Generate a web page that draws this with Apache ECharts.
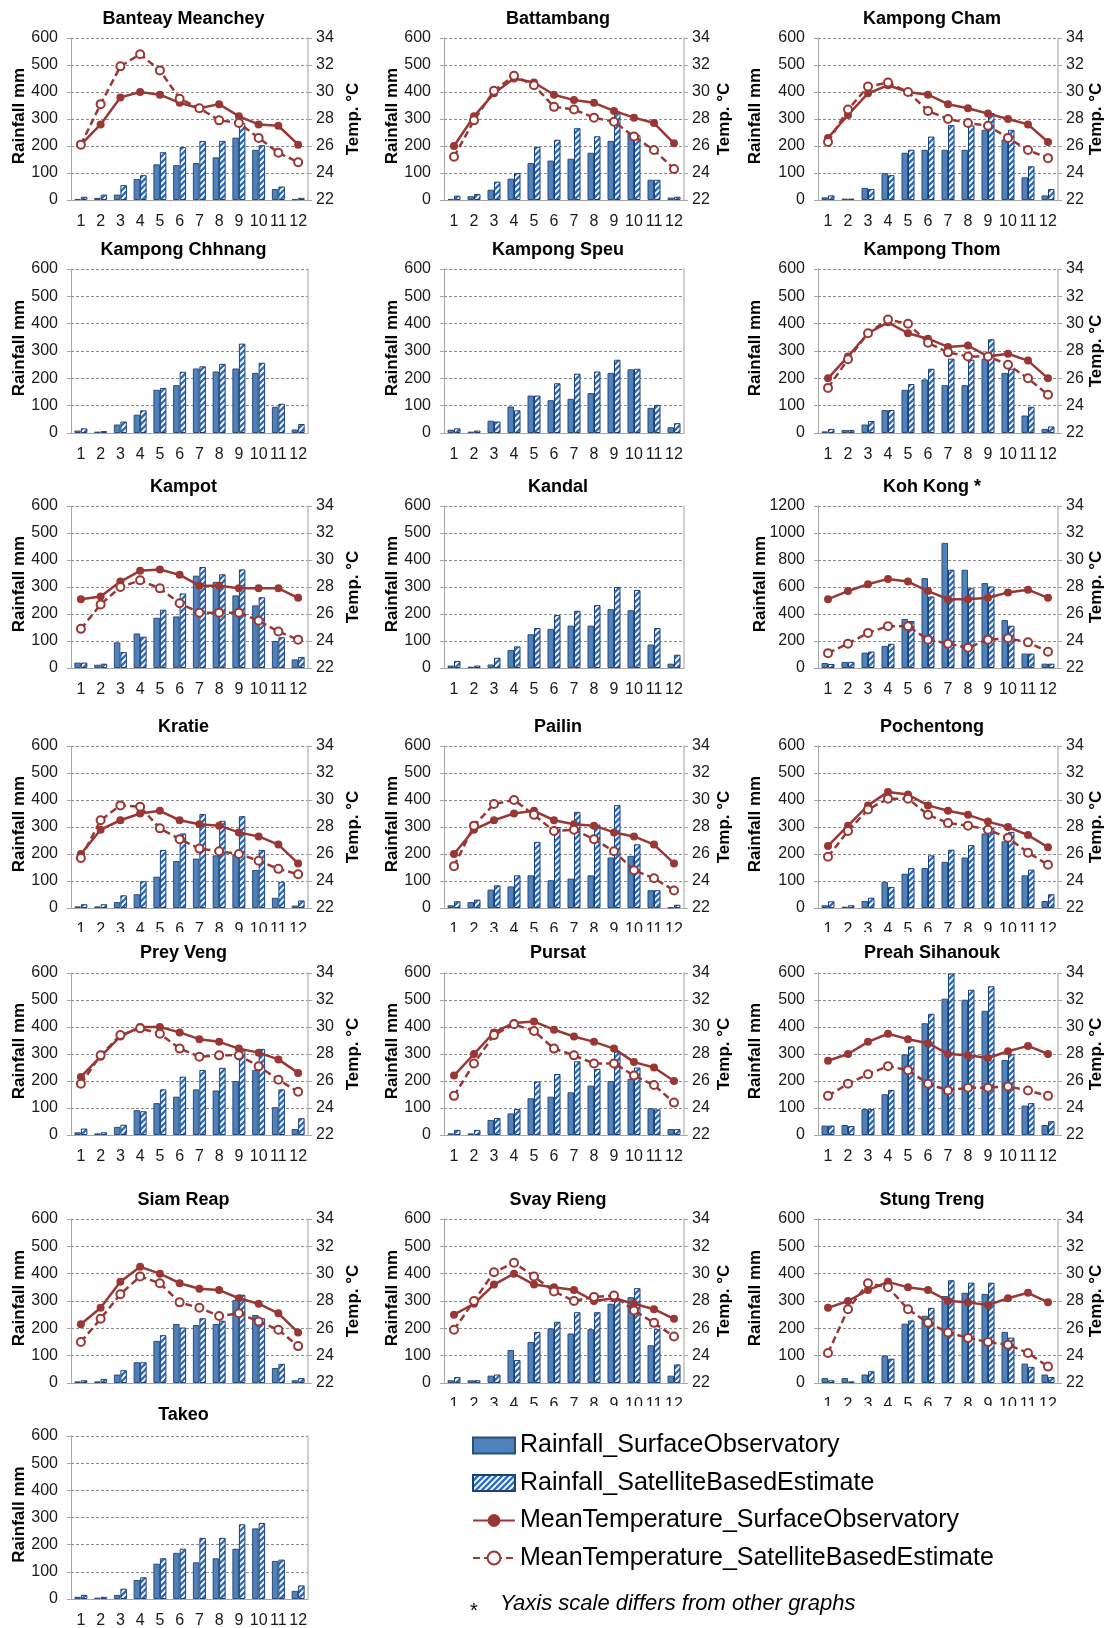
<!DOCTYPE html>
<html>
<head>
<meta charset="utf-8">
<title>Cambodia monthly rainfall and temperature</title>
<script src="https://cdn.jsdelivr.net/npm/echarts@6/dist/echarts.min.js"></script>
<style>
  html, body { margin: 0; padding: 0; background: #fff; }
  #page { position: relative; width: 1110px; height: 1628px; overflow: hidden; background: #fff; }
  .panel { position: absolute; overflow: hidden; background: #fff; }
</style>
</head>
<body>
<div id="page"></div>
<script>
  const months = ['1', '2', '3', '4', '5', '6', '7', '8', '9', '10', '11', '12']

  // Banteay Meanchey
  const bmRainSurf = [4, 8, 20, 78, 132, 129, 137, 158, 231, 186, 41, 3]
  const bmRainSat = [12, 20, 55, 92, 177, 196, 219, 219, 285, 203, 50, 8]
  const bmTempSurf = [26.1, 27.6, 29.6, 30.0, 29.8, 29.2, 28.8, 29.1, 28.2, 27.6, 27.5, 26.1]
  const bmTempSat = [26.1, 29.1, 31.9, 32.8, 31.6, 29.5, 28.8, 27.9, 27.7, 26.6, 25.5, 24.8]
  // Battambang
  const btRainSurf = [4, 14, 38, 79, 137, 146, 153, 175, 219, 248, 75, 9]
  const btRainSat = [16, 22, 68, 100, 197, 223, 266, 236, 328, 240, 75, 12]
  const btTempSurf = [26.0, 28.2, 29.9, 31.0, 30.7, 29.8, 29.4, 29.2, 28.6, 28.1, 27.7, 26.2]
  const btTempSat = [25.2, 27.9, 30.1, 31.2, 30.5, 28.9, 28.7, 28.1, 27.8, 26.7, 25.7, 24.3]
  // Kampong Cham
  const kcRainSurf = [10, 5, 45, 100, 175, 186, 186, 186, 260, 224, 84, 17]
  const kcRainSat = [17, 5, 41, 92, 186, 235, 278, 276, 322, 260, 125, 41]
  const kcTempSurf = [26.6, 28.3, 29.9, 30.5, 30.0, 29.8, 29.1, 28.8, 28.4, 28.0, 27.6, 26.3]
  const kcTempSat = [26.3, 28.7, 30.4, 30.7, 30.0, 28.6, 28.0, 27.7, 27.5, 26.6, 25.7, 25.1]
  // Kampong Chhnang
  const kchRainSurf = [9, 5, 31, 67, 158, 175, 236, 225, 236, 220, 96, 13]
  const kchRainSat = [17, 7, 42, 83, 165, 224, 244, 253, 327, 257, 107, 33]
  // Kampong Speu
  const ksRainSurf = [12, 5, 45, 97, 137, 120, 125, 146, 220, 233, 92, 21]
  const ksRainSat = [17, 9, 42, 83, 137, 182, 217, 225, 268, 235, 103, 36]
  // Kampong Thom
  const ktRainSurf = [6, 11, 31, 84, 158, 196, 175, 175, 272, 220, 64, 15]
  const ktRainSat = [15, 11, 44, 84, 179, 235, 272, 268, 343, 235, 96, 24]
  const ktTempSurf = [26.0, 27.6, 29.3, 30.1, 29.3, 28.9, 28.3, 28.4, 27.6, 27.8, 27.3, 26.0]
  const ktTempSat = [25.3, 27.4, 29.3, 30.3, 30.0, 28.6, 27.9, 27.6, 27.6, 27.0, 26.0, 24.8]
  // Kampot
  const kpRainSurf = [20, 12, 95, 128, 186, 191, 342, 319, 269, 232, 100, 32]
  const kpRainSat = [20, 16, 59, 116, 216, 276, 374, 347, 365, 262, 114, 41]
  const kpTempSurf = [27.1, 27.3, 28.4, 29.2, 29.3, 28.9, 28.1, 28.1, 27.9, 27.9, 27.9, 27.2]
  const kpTempSat = [24.9, 26.7, 28.0, 28.5, 27.9, 26.8, 26.1, 26.1, 26.1, 25.5, 24.7, 24.1]
  // Kandal
  const kdRainSurf = [9, 5, 13, 67, 125, 145, 157, 157, 218, 214, 87, 16]
  const kdRainSat = [26, 9, 38, 80, 148, 196, 212, 233, 300, 289, 148, 49]
  // Koh Kong (own rainfall scale)
  const kkRainSurf = [37, 45, 114, 164, 363, 666, 927, 728, 629, 355, 107, 32]
  const kkRainSat = [30, 45, 122, 179, 348, 530, 728, 591, 604, 313, 107, 32]
  const kkTempSurf = [27.1, 27.7, 28.2, 28.6, 28.4, 27.7, 27.1, 27.1, 27.2, 27.6, 27.8, 27.2]
  const kkTempSat = [23.1, 23.8, 24.6, 25.1, 25.1, 24.1, 23.8, 23.5, 24.1, 24.2, 23.9, 23.2]
  // Kratie
  const krRainSurf = [6, 6, 22, 51, 116, 174, 183, 195, 199, 141, 38, 9]
  const krRainSat = [14, 14, 47, 99, 215, 276, 348, 323, 340, 215, 97, 28]
  const krTempSurf = [26.0, 27.8, 28.5, 29.0, 29.2, 28.5, 28.2, 28.1, 27.6, 27.3, 26.7, 25.3]
  const krTempSat = [25.7, 28.5, 29.6, 29.5, 27.9, 27.1, 26.4, 26.2, 26.0, 25.5, 24.9, 24.5]
  // Pailin
  const plRainSurf = [10, 22, 68, 80, 121, 103, 109, 121, 187, 193, 66, 2]
  const plRainSat = [25, 31, 84, 121, 245, 300, 356, 309, 381, 236, 66, 12]
  const plTempSurf = [26.0, 27.8, 28.5, 29.0, 29.2, 28.5, 28.2, 28.1, 27.6, 27.3, 26.7, 25.3]
  const plTempSat = [25.1, 28.1, 29.7, 30.0, 28.9, 27.7, 27.8, 27.1, 26.2, 24.8, 24.2, 23.3]
  // Pochentong
  const pcRainSurf = [10, 5, 26, 97, 127, 148, 171, 187, 276, 247, 121, 26]
  const pcRainSat = [25, 10, 38, 78, 148, 195, 216, 233, 297, 282, 142, 51]
  const pcTempSurf = [26.6, 28.1, 29.6, 30.6, 30.4, 29.6, 29.2, 28.9, 28.4, 28.0, 27.4, 26.5]
  const pcTempSat = [25.8, 27.7, 29.3, 30.1, 30.1, 28.9, 28.3, 28.1, 27.8, 27.2, 26.1, 25.2]
  // Prey Veng
  const pvRainSurf = [10, 6, 30, 92, 118, 142, 169, 165, 200, 241, 103, 22]
  const pvRainSat = [24, 10, 38, 88, 169, 216, 241, 249, 319, 319, 169, 62]
  const pvTempSurf = [26.3, 27.8, 29.3, 30.0, 30.0, 29.6, 29.1, 28.9, 28.4, 28.1, 27.6, 26.6]
  const pvTempSat = [25.8, 27.9, 29.4, 29.9, 29.5, 28.4, 27.8, 27.9, 27.9, 27.1, 26.1, 25.2]
  // Pursat
  const psRainSurf = [6, 6, 56, 80, 136, 142, 158, 183, 200, 208, 99, 22]
  const psRainSat = [19, 19, 63, 96, 198, 226, 273, 245, 309, 250, 95, 22]
  const psTempSurf = [26.4, 28.0, 29.6, 30.3, 30.4, 29.8, 29.3, 28.9, 28.4, 27.4, 27.0, 26.0]
  const psTempSat = [24.9, 27.3, 29.4, 30.2, 29.7, 28.4, 27.9, 27.3, 27.3, 26.4, 25.7, 24.4]
  // Preah Sihanouk
  const shRainSurf = [35, 37, 96, 151, 299, 414, 505, 501, 460, 278, 109, 37]
  const shRainSat = [35, 33, 96, 167, 328, 449, 598, 538, 551, 299, 118, 51]
  const shTempSurf = [27.5, 28.0, 28.9, 29.5, 29.1, 28.8, 28.0, 27.9, 27.7, 28.2, 28.6, 28.0]
  const shTempSat = [24.9, 25.8, 26.5, 27.1, 26.8, 25.8, 25.3, 25.5, 25.5, 25.6, 25.3, 24.9]
  // Siam Reap
  const srRainSurf = [6, 6, 31, 76, 154, 216, 212, 216, 304, 249, 55, 10]
  const srRainSat = [10, 15, 47, 76, 175, 203, 237, 228, 323, 237, 70, 18]
  const srTempSurf = [26.3, 27.5, 29.4, 30.5, 30.0, 29.3, 28.9, 28.8, 28.2, 27.8, 27.1, 25.7]
  const srTempSat = [25.0, 26.7, 28.5, 29.8, 29.3, 27.9, 27.5, 26.9, 27.1, 26.5, 25.9, 24.7]
  // Svay Rieng
  const svRainSurf = [10, 10, 27, 121, 150, 200, 181, 197, 290, 314, 138, 27]
  const svRainSat = [22, 10, 31, 84, 187, 224, 259, 259, 302, 347, 197, 68]
  const svTempSurf = [27.0, 27.8, 29.2, 30.0, 29.2, 29.0, 28.8, 28.0, 28.2, 27.8, 27.4, 26.7]
  const svTempSat = [25.9, 28.0, 30.1, 30.8, 29.8, 28.7, 28.0, 28.3, 28.4, 27.3, 26.4, 25.4]
  // Stung Treng
  const stRainSurf = [18, 18, 31, 101, 217, 246, 318, 330, 326, 187, 71, 31]
  const stRainSat = [10, 6, 43, 89, 229, 275, 376, 367, 367, 166, 59, 22]
  const stTempSurf = [27.5, 28.0, 28.8, 29.4, 29.0, 28.8, 28.0, 27.9, 27.7, 28.2, 28.6, 27.9]
  const stTempSat = [24.2, 27.4, 29.3, 29.0, 27.4, 26.4, 25.7, 25.3, 25.0, 24.8, 24.2, 23.2]
  // Takeo
  const tkRainSurf = [8, 5, 15, 70, 130, 170, 135, 150, 185, 260, 140, 30]
  const tkRainSat = [15, 8, 38, 80, 150, 185, 225, 225, 275, 280, 145, 50]

  const seriesNames = [
    'Rainfall_SurfaceObservatory',
    'Rainfall_SatelliteBasedEstimate',
    'MeanTemperature_SurfaceObservatory',
    'MeanTemperature_SatelliteBasedEstimate'
  ]

  const FONT = '"Liberation Sans", Arial, Helvetica, sans-serif'
  const RED = '#993735'
  const GREY = '#A6A6A6'

  // page layout (px); rows 4 and 6 are cut short like in the original sheet
  const cols = [
    {divLeft: 0, divWidth: 372, plotLeft: 71, plotRight: 308, rainX: 19, tempX: 353},
    {divLeft: 372, divWidth: 370, plotLeft: 444, plotRight: 684, rainX: 392, tempX: 724},
    {divLeft: 742, divWidth: 368, plotLeft: 818, plotRight: 1058, rainX: 755, tempX: 1096}
  ]
  const rows = [
    {divTop: 0, divHeight: 235, plotTop: 38, plotBottom: 200, titleY: 19},
    {divTop: 235, divHeight: 240, plotTop: 269, plotBottom: 433, titleY: 250},
    {divTop: 475, divHeight: 237, plotTop: 506, plotBottom: 668, titleY: 487},
    {divTop: 712, divHeight: 220, plotTop: 746, plotBottom: 908, titleY: 727},
    {divTop: 940, divHeight: 245, plotTop: 973, plotBottom: 1135, titleY: 953},
    {divTop: 1185, divHeight: 221, plotTop: 1219, plotBottom: 1383, titleY: 1200},
    {divTop: 1393, divHeight: 235, plotTop: 1436, plotBottom: 1599, titleY: 1415}
  ]

  const panels = [
    {name: 'Banteay Meanchey', col: 0, row: 0, rainSurf: bmRainSurf, rainSat: bmRainSat, tempSurf: bmTempSurf, tempSat: bmTempSat},
    {name: 'Battambang', col: 1, row: 0, rainSurf: btRainSurf, rainSat: btRainSat, tempSurf: btTempSurf, tempSat: btTempSat},
    {name: 'Kampong Cham', col: 2, row: 0, rainSurf: kcRainSurf, rainSat: kcRainSat, tempSurf: kcTempSurf, tempSat: kcTempSat},
    {name: 'Kampong Chhnang', col: 0, row: 1, rainSurf: kchRainSurf, rainSat: kchRainSat},
    {name: 'Kampong Speu', col: 1, row: 1, rainSurf: ksRainSurf, rainSat: ksRainSat},
    {name: 'Kampong Thom', col: 2, row: 1, rainSurf: ktRainSurf, rainSat: ktRainSat, tempSurf: ktTempSurf, tempSat: ktTempSat},
    {name: 'Kampot', col: 0, row: 2, rainSurf: kpRainSurf, rainSat: kpRainSat, tempSurf: kpTempSurf, tempSat: kpTempSat},
    {name: 'Kandal', col: 1, row: 2, rainSurf: kdRainSurf, rainSat: kdRainSat},
    {name: 'Koh Kong *', col: 2, row: 2, rainSurf: kkRainSurf, rainSat: kkRainSat, tempSurf: kkTempSurf, tempSat: kkTempSat, rainMax: 1200, rainStep: 200, rainX: 760},
    {name: 'Kratie', col: 0, row: 3, rainSurf: krRainSurf, rainSat: krRainSat, tempSurf: krTempSurf, tempSat: krTempSat},
    {name: 'Pailin', col: 1, row: 3, rainSurf: plRainSurf, rainSat: plRainSat, tempSurf: plTempSurf, tempSat: plTempSat},
    {name: 'Pochentong', col: 2, row: 3, rainSurf: pcRainSurf, rainSat: pcRainSat, tempSurf: pcTempSurf, tempSat: pcTempSat},
    {name: 'Prey Veng', col: 0, row: 4, rainSurf: pvRainSurf, rainSat: pvRainSat, tempSurf: pvTempSurf, tempSat: pvTempSat},
    {name: 'Pursat', col: 1, row: 4, rainSurf: psRainSurf, rainSat: psRainSat, tempSurf: psTempSurf, tempSat: psTempSat},
    {name: 'Preah Sihanouk', col: 2, row: 4, rainSurf: shRainSurf, rainSat: shRainSat, tempSurf: shTempSurf, tempSat: shTempSat},
    {name: 'Siam Reap', col: 0, row: 5, rainSurf: srRainSurf, rainSat: srRainSat, tempSurf: srTempSurf, tempSat: srTempSat},
    {name: 'Svay Rieng', col: 1, row: 5, rainSurf: svRainSurf, rainSat: svRainSat, tempSurf: svTempSurf, tempSat: svTempSat},
    {name: 'Stung Treng', col: 2, row: 5, rainSurf: stRainSurf, rainSat: stRainSat, tempSurf: stTempSurf, tempSat: stTempSat},
    {name: 'Takeo', col: 0, row: 6, rainSurf: tkRainSurf, rainSat: tkRainSat}
  ]

  function stripePattern() {
    const cv = document.createElement('canvas')
    cv.width = 6
    cv.height = 6
    const ctx = cv.getContext('2d')
    ctx.fillStyle = '#fff'
    ctx.fillRect(0, 0, 6, 6)
    ctx.strokeStyle = '#2A6FC0'
    ctx.lineWidth = 2.4
    ctx.beginPath()
    ctx.moveTo(-1, 1); ctx.lineTo(1, -1)
    ctx.moveTo(-1, 7); ctx.lineTo(7, -1)
    ctx.moveTo(5, 7); ctx.lineTo(7, 5)
    ctx.stroke()
    return {image: cv, repeat: 'repeat'}
  }
  const stripes = stripePattern()

  const surfBarStyle = {color: '#4F81BD', borderColor: '#2C4D75', borderWidth: 1}
  const satBarStyle = {color: stripes, borderColor: '#1F3F73', borderWidth: 1}

  function barSeries(name, data, style) {
    return {
      name: name, type: 'bar', yAxisIndex: 0, data: data,
      barWidth: 6.5, barGap: '0%', itemStyle: style
    }
  }
  function tempSeries(name, data, dashed) {
    return {
      name: name, type: 'line', yAxisIndex: 1, data: data,
      symbol: dashed ? 'emptyCircle' : 'circle',
      symbolSize: 8,
      lineStyle: {color: RED, width: 2.5, type: dashed ? [7, 4] : 'solid'},
      itemStyle: {color: RED, borderColor: RED, borderWidth: dashed ? 1.5 : 0}
    }
  }

  function label(text, x, y, font, rotated) {
    return {
      type: 'text', x: x, y: y, rotation: rotated ? Math.PI / 2 : 0,
      style: {
        text: text, fill: '#000', font: font,
        align: 'center', verticalAlign: 'middle',
        textAlign: 'center', textVerticalAlign: 'middle'
      }
    }
  }

  function panelOption(p) {
    const c = cols[p.col]
    const r = rows[p.row]
    const hasTemp = !!p.tempSurf
    const series = [
      barSeries(seriesNames[0], p.rainSurf, surfBarStyle),
      barSeries(seriesNames[1], p.rainSat, satBarStyle)
    ]
    if (hasTemp) {
      series.push(tempSeries(seriesNames[2], p.tempSurf, false))
      series.push(tempSeries(seriesNames[3], p.tempSat, true))
    }
    const midY = (r.plotTop + r.plotBottom) / 2 - r.divTop
    const texts = [
      label(p.name, (c.plotLeft + c.plotRight) / 2 - 6 - c.divLeft, r.titleY - r.divTop, 'bold 18px ' + FONT, false),
      label('Rainfall mm', (p.rainX || c.rainX) - c.divLeft, midY - 3, 'bold 17px ' + FONT, true)
    ]
    if (hasTemp) {
      texts.push(label('Temp. °C', c.tempX - c.divLeft, midY, 'bold 17px ' + FONT, true))
    }
    return {
      animation: false,
      textStyle: {fontFamily: FONT},
      graphic: texts,
      grid: {
        left: c.plotLeft - c.divLeft,
        top: r.plotTop - r.divTop,
        width: c.plotRight - c.plotLeft,
        height: r.plotBottom - r.plotTop,
        containLabel: false,
        outerBoundsMode: 'none'
      },
      xAxis: {
        type: 'category',
        data: months,
        axisLine: {lineStyle: {color: GREY, width: 1}},
        axisTick: {show: false},
        axisLabel: {interval: 0, fontSize: 16, color: '#1a1a1a', margin: 14, fontFamily: FONT}
      },
      yAxis: [
        {
          type: 'value',
          min: 0,
          max: p.rainMax || 600,
          interval: p.rainStep || 100,
          axisLine: {show: true, lineStyle: {color: GREY}},
          axisTick: {show: true, length: 4, lineStyle: {color: GREY}},
          axisLabel: {fontSize: 16, color: '#1a1a1a', margin: 13, fontFamily: FONT, formatter: function (v) { return String(v) }},
          splitLine: {lineStyle: {color: '#8C8C8C', type: [3, 2], width: 1}}
        },
        {
          type: 'value',
          position: 'right',
          min: 22,
          max: 34,
          interval: 2,
          axisLine: {show: true, lineStyle: {color: '#BFBFBF', width: 1.5}},
          axisTick: {show: hasTemp, length: 4, lineStyle: {color: GREY}},
          axisLabel: {show: hasTemp, fontSize: 16, color: '#1a1a1a', margin: 8, fontFamily: FONT},
          splitLine: {show: false}
        }
      ],
      series: series
    }
  }

  function legendOption() {
    return {
      animation: false,
      textStyle: {fontFamily: FONT},
      grid: {left: 0, top: 0, width: 1, height: 1, show: false, outerBoundsMode: 'none'},
      xAxis: {type: 'category', show: false, data: months},
      yAxis: [{type: 'value', show: false}, {type: 'value', show: false}],
      legend: {
        orient: 'vertical',
        left: 27,
        top: 13,
        itemWidth: 42,
        itemHeight: 16,
        itemGap: 12.5,
        textStyle: {fontSize: 25, color: '#000', fontFamily: FONT},
        data: [
          {name: seriesNames[0], icon: 'rect'},
          {name: seriesNames[1], icon: 'rect'},
          seriesNames[2],
          seriesNames[3]
        ]
      },
      graphic: [
        {type: 'text', x: 30, y: 196, style: {text: '*', fill: '#000', font: '20px ' + FONT, verticalAlign: 'middle', textVerticalAlign: 'middle'}},
        {type: 'text', x: 60, y: 189, style: {text: 'Yaxis scale differs from other graphs', fill: '#000', font: 'italic 22px ' + FONT, verticalAlign: 'middle', textVerticalAlign: 'middle'}}
      ],
      series: [
        barSeries(seriesNames[0], [], surfBarStyle),
        barSeries(seriesNames[1], [], satBarStyle),
        tempSeries(seriesNames[2], [], false),
        tempSeries(seriesNames[3], [], true)
      ]
    }
  }

  function addBox(left, top, width, height) {
    const el = document.createElement('div')
    el.className = 'panel'
    el.style.left = left + 'px'
    el.style.top = top + 'px'
    el.style.width = width + 'px'
    el.style.height = height + 'px'
    document.getElementById('page').appendChild(el)
    return el
  }

  panels.forEach(function (p) {
    const c = cols[p.col]
    const r = rows[p.row]
    const el = addBox(c.divLeft, r.divTop, c.divWidth, r.divHeight)
    const chart = echarts.init(el, null, {renderer: 'canvas'})
    chart.setOption(panelOption(p))
  })

  const legendEl = addBox(440, 1415, 670, 213)
  echarts.init(legendEl, null, {renderer: 'canvas'}).setOption(legendOption())
</script>
</body>
</html>
